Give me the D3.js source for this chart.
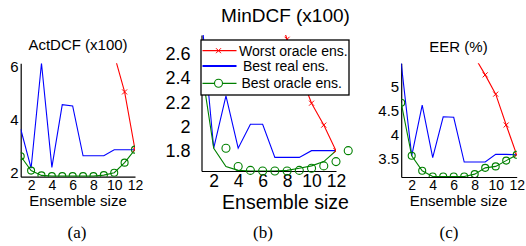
<!DOCTYPE html>
<html><head><meta charset="utf-8">
<script src="https://cdn.jsdelivr.net/npm/d3@7"></script>
<style>body{margin:0;background:#fff} svg{display:block}</style></head>
<body>
<svg id="chart" width="526" height="246"></svg>
<script>
// ---- data ----
const ensembleSizes = [1,2,3,4,5,6,7,8,9,10,11,12];
const xTicks = [2,4,6,8,10,12];
const actTicks = [2,4,6];
const minTicks = [1.8,2,2.2,2.4,2.6];
const eerTicks = [3.5,4,4.5,5];
const actWorst      = [null,null,null,null,null,null,null,null,null,6.45,5.05,2.87];
const actBestReal   = [3.65,2.17,6.13,2.2,4.57,4.52,2.64,2.64,2.64,2.87,2.87,2.87];
const actBestOracle = [2.62,2.08,1.9,1.87,1.87,1.87,1.87,1.87,1.91,2.0,2.38,2.87];
const minWorst      = [null,null,null,null,null,null,3.0,2.715,2.45,2.19,2.01,1.80];
const minBestReal   = [2.9,1.82,2.25,1.82,2.017,2.017,1.745,1.745,1.745,1.80,1.80,1.80];
const minBestOracle = [2.48,1.82,1.67,1.638,1.633,1.633,1.633,1.638,1.655,1.675,1.71,1.80];
const eerWorst      = [null,null,null,null,null,null,6.0,5.6,5.23,4.83,4.19,3.57];
const eerBestReal   = [5.47,3.55,4.6,3.51,4.36,4.35,3.42,3.42,3.42,3.58,3.58,3.57];
const eerBestOracle = [4.65,3.55,3.24,3.12,3.12,3.12,3.12,3.17,3.30,3.33,3.45,3.57];
const titles = ["ActDCF (x100)","MinDCF (x100)","EER (%)"];
const legendLabels = ["Worst oracle ens.","Best real ens.","Best oracle ens."];
const captions = ["(a)","(b)","(c)"];
const xLabel = "Ensemble size";

// ---- layout ----
const svg = d3.select("#chart");
const SANS = "'Liberation Sans', Arial, sans-serif";
const RED = "#ff0000", BLUE = "#0000ff", GREEN = "#008000";

const panels = [
  {worst: actWorst, real: actBestReal, oracle: actBestOracle, yTicks: actTicks,
   xr: [20.7,135], yr: [176.7,63.3], yd: [1.85,6.13], fs: 15, tfs: 14, ylx: -2,
   title: [78,45], xlab: [78,201], tickY: 185.5, cap: [77,238], shift: 0, r: 3.5},
  {worst: minWorst, real: minBestReal, oracle: minBestOracle, yTicks: minTicks,
   xr: [201.5,336], yr: [171,35], yd: [1.633,2.75], fs: 19, tfs: 17.5, ylx: -11,
   title: [285.5,15.5], xlab: [285.5,202.5], tickY: 181, cap: [263,238], shift: 1, r: 4},
  {worst: eerWorst, real: eerBestReal, oracle: eerBestOracle, yTicks: eerTicks,
   xr: [401.2,516.7], yr: [177,63.3], yd: [3.11,5.47], fs: 15, tfs: 14, ylx: -2,
   title: [458.5,46.7], xlab: [458.5,201], tickY: 185.5, cap: [449,238], shift: 0, r: 3.5}
];

panels.forEach((p, i) => {
  const x = d3.scaleLinear().domain([1,12]).range(p.xr);
  const y = d3.scaleLinear().domain(p.yd).range(p.yr);
  const g = svg.append("g");
  const clipId = "clip" + i;
  svg.append("clipPath").attr("id", clipId).append("rect")
    .attr("x", p.xr[0]).attr("y", p.yr[1])
    .attr("width", p.xr[1]-p.xr[0]).attr("height", p.yr[0]-p.yr[1]);

  // axes
  const xAxis = d3.axisBottom(x).tickValues(xTicks).tickSize(0).tickPadding(0).tickFormat(d3.format("d"));
  const yAxis = d3.axisLeft(y).tickValues(p.yTicks).tickSize(0).tickPadding(0).tickFormat(d => String(d));
  const gx = g.append("g").attr("transform", `translate(0,${p.yr[0]})`).call(xAxis);
  const gy = g.append("g").attr("transform", `translate(${p.xr[0]},0)`).call(yAxis);
  [gx, gy].forEach(a => {
    a.select(".domain").attr("stroke", "#000").attr("stroke-width", 1.2);
    a.selectAll("text").attr("font-family", SANS).attr("font-size", p.tfs).attr("fill", "#000");
  });
  gy.selectAll("text").attr("font-size", i===1 ? 18 : p.fs);
  gx.selectAll("text").attr("y", p.tickY - p.yr[0]).attr("dy", "0.35em");
  gy.selectAll("text").attr("x", p.ylx).attr("dy", "0.35em");

  const plot = g.append("g").attr("clip-path", `url(#${clipId})`);
  const line = d3.line().defined(d => d[1] != null).x(d => x(d[0])).y(d => y(d[1]));
  const pts = arr => ensembleSizes.map((s, k) => [s, arr[k]]);

  plot.append("path").datum(pts(p.real)).attr("d", line)
    .attr("fill","none").attr("stroke", BLUE).attr("stroke-width", 1.1);
  plot.append("path").datum(pts(p.oracle)).attr("d", line)
    .attr("fill","none").attr("stroke", GREEN).attr("stroke-width", 1.1);
  plot.append("path").datum(pts(p.worst)).attr("d", line)
    .attr("fill","none").attr("stroke", RED).attr("stroke-width", 1.1);

  // worst markers (x)
  const wp = pts(p.worst).filter(d => d[1] != null && d[1] <= p.yd[1]);
  plot.selectAll(".wm").data(wp).join("path")
    .attr("d", d => { const cx = x(d[0]), cy = y(d[1]), s = 2.5;
      return `M${cx-s},${cy-s}L${cx+s},${cy+s}M${cx-s},${cy+s}L${cx+s},${cy-s}`; })
    .attr("stroke", RED).attr("stroke-width", 1);

  // oracle circles
  const cLayer = p.shift ? g : plot;
  cLayer.selectAll(".oc").data(pts(p.oracle)).join("circle")
    .attr("cx", d => x(d[0] + p.shift)).attr("cy", d => y(d[1])).attr("r", p.r)
    .attr("fill","none").attr("stroke", GREEN).attr("stroke-width", 1.1);

  // titles
  g.append("text").attr("x", p.title[0]).attr("y", p.title[1]).attr("dy","0.35em")
    .attr("text-anchor","middle").attr("font-family", SANS).attr("font-size", p.fs)
    .text(titles[i]);
  g.append("text").attr("x", p.xlab[0]).attr("y", p.xlab[1]).attr("dy","0.35em")
    .attr("text-anchor","middle").attr("font-family", SANS).attr("font-size", p.fs + (i===1?0.5:0))
    .text(xLabel);
  g.append("text").attr("x", p.cap[0]).attr("y", p.cap[1])
    .attr("text-anchor","middle").attr("font-family","'Liberation Serif', 'Times New Roman', serif")
    .attr("font-size", 17).text(captions[i]);

  if (i === 1) {
    const lg = g.append("g");
    lg.append("rect").attr("x", 201).attr("y", 40).attr("width", 148).attr("height", 55)
      .attr("fill", "#fff").attr("stroke", "#000").attr("stroke-width", 1.3);
    const rows = [50.7, 66, 83.3];
    const tx = [239, 243, 241.5];
    const cols = [RED, BLUE, GREEN];
    rows.forEach((ry, k) => {
      lg.append("line").attr("x1", 202.5).attr("x2", 236.5).attr("y1", ry).attr("y2", ry)
        .attr("stroke", cols[k]).attr("stroke-width", k===1?2:1.2);
      lg.append("text").attr("x", tx[k]).attr("y", ry).attr("dy","0.35em")
        .attr("font-family", SANS).attr("font-size", 14).text(legendLabels[k]);
    });
    const s = 2.5;
    lg.append("path").attr("d", `M${218.5-s},${rows[0]-s}L${218.5+s},${rows[0]+s}M${218.5-s},${rows[0]+s}L${218.5+s},${rows[0]-s}`)
      .attr("stroke", RED).attr("stroke-width", 1);
    lg.append("circle").attr("cx", 218.5).attr("cy", rows[2]).attr("r", 4)
      .attr("fill","#fff").attr("stroke", GREEN).attr("stroke-width", 1.1);
  }
});
</script>
</body></html>
